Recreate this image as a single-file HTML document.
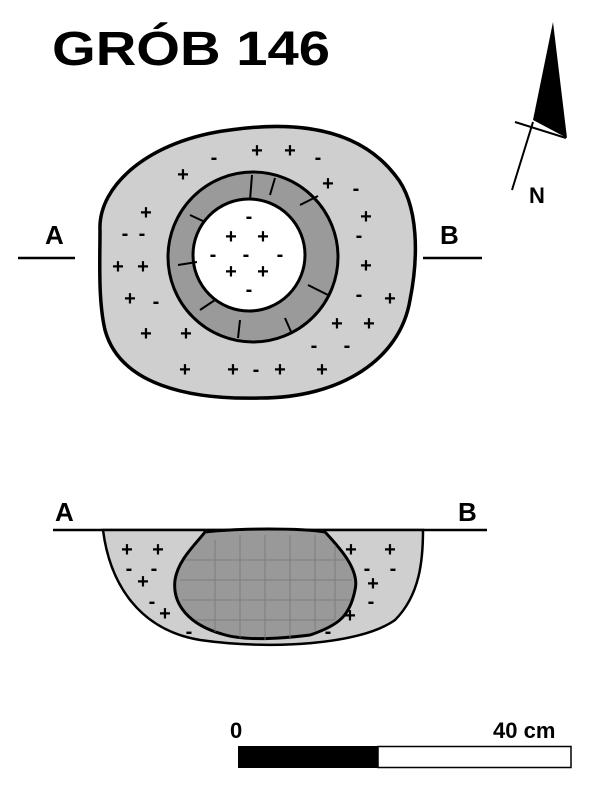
<!DOCTYPE html><html><head><style>body{margin:0;background:#fff}svg{display:block}</style></head><body>
<svg width="600" height="789" viewBox="0 0 600 789" xmlns="http://www.w3.org/2000/svg" font-family="Liberation Sans, sans-serif" font-weight="bold">
<text x="52" y="65" font-size="48" textLength="278" lengthAdjust="spacingAndGlyphs">GRÓB 146</text>
<polygon points="553,22 533,120 567,138" fill="#000"/>
<line x1="515" y1="122" x2="566" y2="138" stroke="#000" stroke-width="2"/>
<line x1="533" y1="122" x2="512" y2="190" stroke="#000" stroke-width="2"/>
<text x="529" y="203" font-size="22">N</text>
<path d="M100,230 C98,185 150,140 230,130 C300,120 360,130 395,175 C420,205 418,260 410,300 C400,360 340,398 260,398 C190,400 120,385 105,330 C98,300 100,260 100,230Z" fill="#cfcfcf" stroke="#000" stroke-width="3.5"/>
<circle cx="253" cy="257" r="85" fill="#9a9a9a" stroke="#000" stroke-width="3"/>
<circle cx="249" cy="255" r="56" fill="#fff" stroke="#000" stroke-width="3"/>
<g stroke="#000" stroke-width="2" fill="none"><path d="M190,215 L205,222 M178,265 L197,262 M200,310 L215,300 M240,320 L238,338 M285,318 L292,334 M308,285 L328,295 M300,205 L318,196 M250,200 L252,175 M275,178 L270,195"/></g>
<text x="45" y="244" font-size="26">A</text><line x1="18" y1="258" x2="75" y2="258" stroke="#000" stroke-width="2.5"/>
<text x="440" y="244" font-size="26">B</text><line x1="423" y1="258" x2="482" y2="258" stroke="#000" stroke-width="2.5"/>
<g font-size="20" text-anchor="middle">
<text x="257" y="157">+</text><text x="290" y="157">+</text><text x="214" y="164">-</text><text x="318" y="164">-</text>
<text x="183" y="181">+</text><text x="328" y="190">+</text><text x="356" y="195">-</text>
<text x="146" y="219">+</text><text x="366" y="223">+</text><text x="125" y="240">-</text><text x="142" y="240">-</text><text x="359" y="242">-</text>
<text x="118" y="273">+</text><text x="143" y="273">+</text><text x="366" y="272">+</text>
<text x="130" y="305">+</text><text x="156" y="308">-</text><text x="359" y="301">-</text><text x="390" y="305">+</text>
<text x="146" y="340">+</text><text x="186" y="340">+</text><text x="337" y="330">+</text><text x="369" y="330">+</text><text x="314" y="352">-</text><text x="347" y="352">-</text>
<text x="185" y="376">+</text><text x="233" y="376">+</text><text x="256" y="376">-</text><text x="280" y="376">+</text><text x="322" y="376">+</text>
<text x="249" y="223">-</text><text x="231" y="243">+</text><text x="263" y="243">+</text><text x="213" y="261">-</text><text x="246" y="261">-</text><text x="280" y="261">-</text><text x="231" y="278">+</text><text x="263" y="278">+</text><text x="249" y="296">-</text>
</g>
<text x="55" y="521" font-size="26">A</text><text x="458" y="521" font-size="26">B</text>
<line x1="53" y1="530" x2="487" y2="530" stroke="#000" stroke-width="2.5"/>
<path d="M103,530 C110,585 140,630 200,640 C270,650 360,645 395,620 C420,595 423,560 423,530Z" fill="#cfcfcf" stroke="#000" stroke-width="2.5"/>
<path d="M205,532 C240,528 300,528 325,532 C340,548 360,570 355,590 C350,615 340,625 310,635 C270,640 240,640 222,634 C190,625 172,605 175,580 C178,560 195,545 205,532Z" fill="#999" stroke="#000" stroke-width="3"/>
<g stroke="#777" stroke-width="1" opacity=".8"><path d="M185,560H345M180,580H352M182,600H350M195,620H335M215,540V632M240,535V638M265,535V640M290,535V638M315,535V632M335,545V620"/></g>
<g font-size="20" text-anchor="middle">
<text x="127" y="556">+</text><text x="158" y="556">+</text><text x="129" y="575">-</text><text x="154" y="575">-</text><text x="143" y="588">+</text><text x="152" y="608">-</text><text x="165" y="620">+</text><text x="189" y="638">-</text>
<text x="351" y="556">+</text><text x="390" y="556">+</text><text x="367" y="575">-</text><text x="393" y="575">-</text><text x="373" y="590">+</text><text x="371" y="608">-</text><text x="350" y="622">+</text><text x="328" y="638">-</text>
</g>
<text x="230" y="738" font-size="22">0</text><text x="493" y="738" font-size="22">40 cm</text>
<rect x="238" y="746" width="140" height="22" fill="#000"/>
<rect x="378" y="746.5" width="193" height="21" fill="#fff" stroke="#000" stroke-width="1.5"/>
</svg></body></html>
